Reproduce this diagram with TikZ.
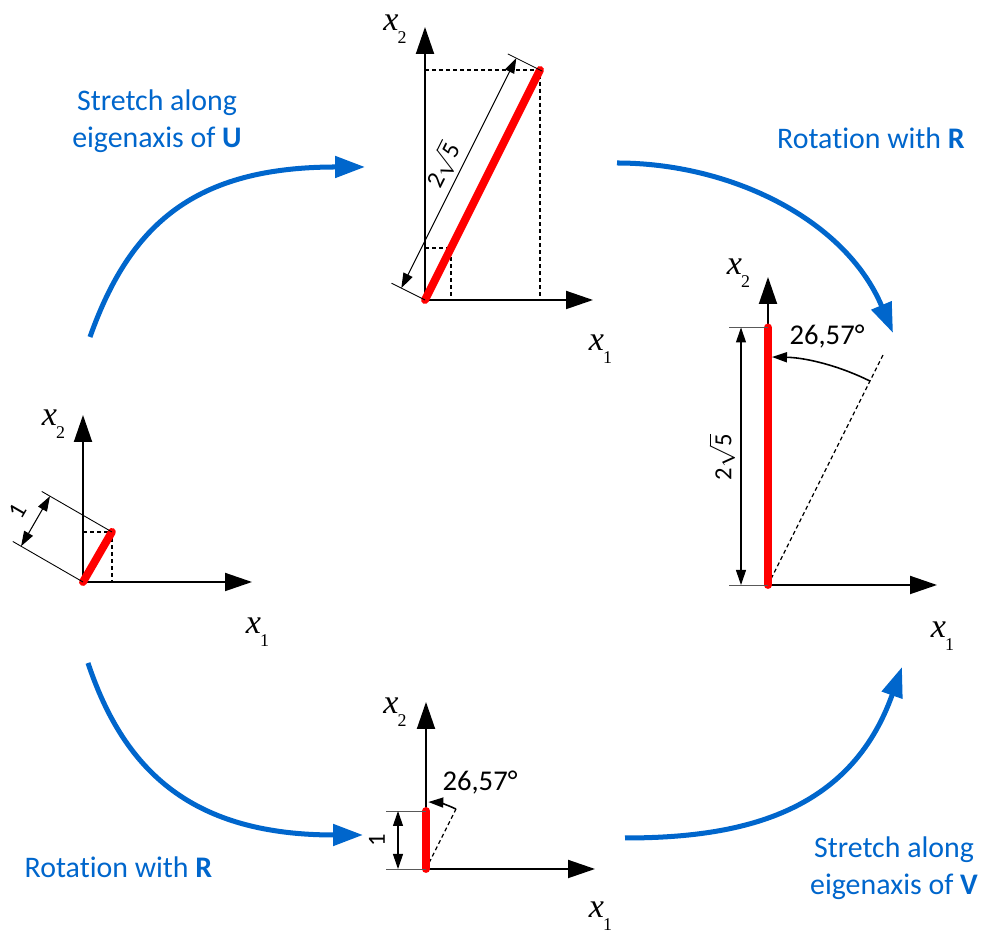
\documentclass[tikz,border=0pt]{standalone}
\usepackage{fontspec}
\setmainfont{Carlito}[Ligatures=NoCommon]
\newfontfamily\tms{Liberation Serif}
\usetikzlibrary{arrows.meta}
\definecolor{flow}{HTML}{0066CC}
\definecolor{vec}{HTML}{FF0000}
\newcommand{\axlab}[1]{{\tms\itshape\fontsize{19.4}{19.4}\selectfont x}\kern-0.5pt\raisebox{-7.4pt}{\tms\fontsize{10.2}{10.2}\selectfont #1}}
\newcommand{\twosqrt}{2$\sqrt{\mbox{5}}$}

\begin{document}
\begin{tikzpicture}[>=Latex]
\tikzset{
  axis/.style={line width=1.1pt,-{Triangle[length=0.54cm,width=0.36cm]}},
  vecline/.style={vec,line width=4.5pt,line cap=round},
  helper/.style={dash pattern=on 2.3pt off 1.7pt,line width=0.7pt},
  extline/.style={line width=0.5pt},
  dimline/.style={line width=0.6pt,{Triangle[length=0.3cm,width=0.2cm]}-{Triangle[length=0.3cm,width=0.2cm]}},
  anglearrow/.style={line width=0.9pt,-{Triangle[length=0.3cm,width=0.2cm]}},
  flowarrow/.style={flow,line width=2.85pt,-{Triangle[length=0.6cm,width=0.42cm]}},
  flowtext/.style={flow,font=\fontsize{17}{21}\selectfont,align=center},
  dimtext/.style={font=\fontsize{14}{14}\selectfont,inner sep=0pt},
  angtext/.style={font=\fontsize{16.3}{16.3}\selectfont,inner sep=0pt}
}
\useasboundingbox (0,0) rectangle (19.62,18.68);

% left: unit vector
\begin{scope}[shift={(1.66,7.04)}]
  \coordinate (oA) at (0,0);
  \draw[helper] (0,1.0)--(0.58,1.0)--(0.58,0);
  \draw[axis] (oA)--(0,3.34);
  \draw[axis] (oA)--(3.38,0);
  \draw[vecline] (oA)--(60:1.156) coordinate (eA);
  \begin{scope}[rotate=60]
    \draw[extline] (0,0)--(0,1.62);
    \draw[extline] (1.156,0)--(1.156,1.62);
    \draw[dimline] (0,1.43)--(1.156,1.43);
    \node[dimtext,rotate=60] (dimA) at (0.578,1.83) {1};
  \end{scope}
  \node (xtwoA) at (-0.59,3.16) {\axlab{2}};
  \node (xoneA) at (3.49,-1.00) {\axlab{1}};
\end{scope}

% top: stretched vector
\begin{scope}[shift={(8.50,12.68)}]
  \coordinate (oB) at (0,0);
  \draw[helper] (0,4.60)--(2.30,4.60)--(2.30,0);
  \draw[helper] (0,1.04)--(0.52,1.04)--(0.52,0);
  \draw[axis] (oB)--(0,5.46);
  \draw[axis] (oB)--(3.36,0);
  \draw[vecline] (oB)--(2.30,4.60) coordinate (eB);
  \begin{scope}[rotate=63.43]
    \draw[extline] (0,0)--(0,0.75);
    \draw[extline] (5.143,-0.05)--(5.143,0.72);
    \draw[dimline] (0,0.53)--(5.143,0.53);
    \node[dimtext,rotate=63.43] (dimB) at (2.57,0.89) {\twosqrt};
  \end{scope}
  \node (xtwoB) at (-0.60,5.42) {\axlab{2}};
  \node (xoneB) at (3.51,-0.98) {\axlab{1}};
\end{scope}

% right: stretched and rotated
\begin{scope}[shift={(15.36,6.98)}]
  \coordinate (oC) at (0,0);
  \draw[helper] (oC)--(2.30,4.60);
  \draw[axis] (oC)--(0,6.16);
  \draw[axis] (oC)--(3.38,0);
  \draw[anglearrow] (63.43:4.56) arc[start angle=63.43,end angle=89,radius=4.56];
  \draw[vecline] (oC)--(0,5.15) coordinate (eC);
  \draw[extline,black!65] (-0.78,0)--(0,0);
  \draw[extline,black!65] (-0.78,5.15)--(0,5.15);
  \draw[dimline] (-0.54,0)--(-0.54,5.15);
  \node[dimtext,rotate=90] (dimC) at (-0.92,2.56) {\twosqrt};
  \node[angtext] (angC) at (1.18,4.96) {26,57°};
  \node (xtwoC) at (-0.59,6.24) {\axlab{2}};
  \node (xoneC) at (3.49,-1.02) {\axlab{1}};
\end{scope}

% bottom: rotated unit vector
\begin{scope}[shift={(8.52,1.30)}]
  \coordinate (oD) at (0,0);
  \draw[helper] (oD)--(63.43:1.34);
  \draw[axis] (oD)--(0,3.34);
  \draw[axis] (oD)--(3.38,0);
  \draw[anglearrow] (63.43:1.34) arc[start angle=63.43,end angle=88,radius=1.34];
  \draw[vecline] (oD)--(0,1.16) coordinate (eD);
  \draw[extline,black!65] (-0.80,0)--(0,0);
  \draw[extline,black!65] (-0.80,1.16)--(0,1.16);
  \draw[dimline] (-0.56,0)--(-0.56,1.16);
  \node[dimtext,rotate=90] (dimD) at (-0.98,0.58) {1};
  \node[angtext] (angD) at (1.08,1.72) {26,57°};
  \node (xtwoD) at (-0.62,3.14) {\axlab{2}};
  \node (xoneD) at (3.49,-0.94) {\axlab{1}};
\end{scope}

% the four steps
\coordinate (fromA1) at (1.80,11.94);
\coordinate (toB) at (7.30,15.34);
\coordinate (fromB) at (12.34,15.42);
\coordinate (toC1) at (17.86,12.02);
\coordinate (fromA2) at (1.76,5.42);
\coordinate (toD) at (7.26,1.98);
\coordinate (fromD) at (12.50,1.92);
\coordinate (toC2) at (18.04,5.34);
\draw[flowarrow] (fromA1) .. controls (2.6,14.2) and (3.9,15.34) .. (toB);
\draw[flowarrow] (fromB) .. controls (14.6,15.42) and (16.9,14.3) .. (toC1);
\draw[flowarrow] (fromA2) .. controls (2.5,3.2) and (3.9,1.98) .. (toD);
\draw[flowarrow] (fromD) .. controls (14.8,1.92) and (17.0,2.4) .. (toC2);

\node[flowtext] (txtU) at (3.14,16.25) {Stretch along\\eigenaxis of \textbf{U}};
\node[flowtext] (txtRtop) at (17.42,15.92) {Rotation with \textbf{R}};
\node[flowtext] (txtRbot) at (2.37,1.34) {Rotation with \textbf{R}};
\node[flowtext] (txtV) at (17.88,1.31) {Stretch along\\eigenaxis of \textbf{V}};
\end{tikzpicture}
\end{document}
